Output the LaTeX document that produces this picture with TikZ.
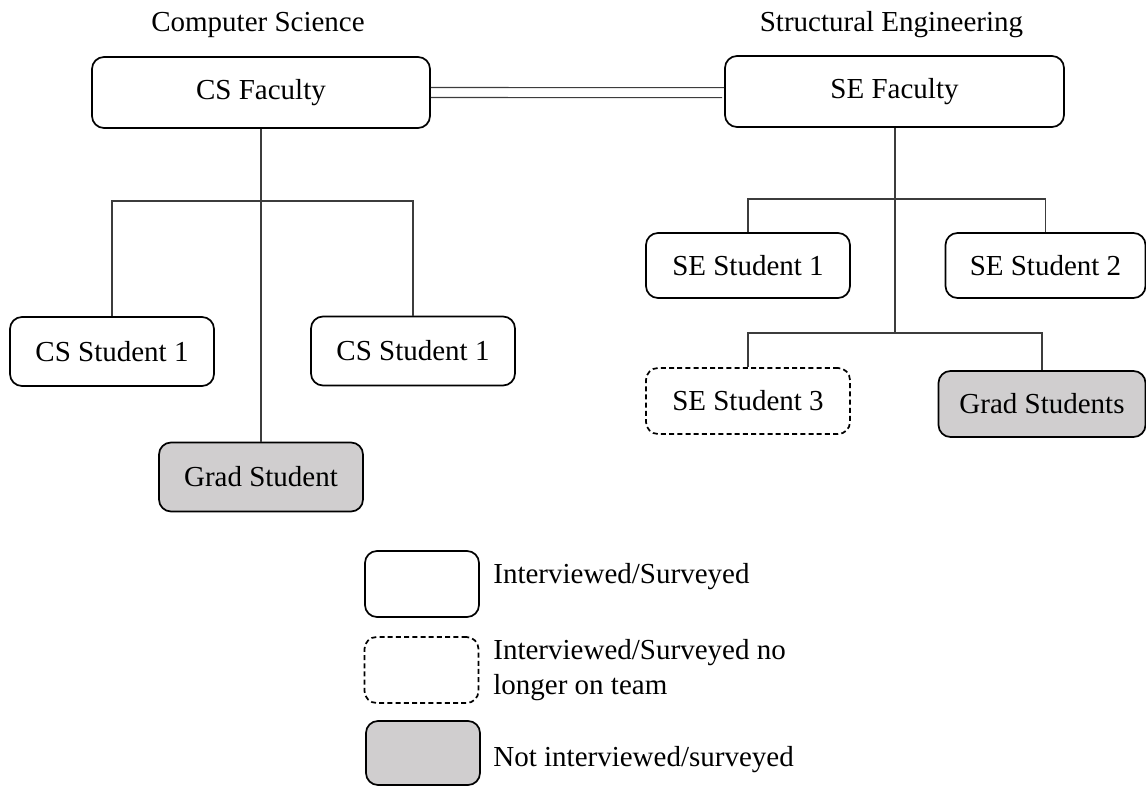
\documentclass[tikz,border=0pt]{standalone}
\usepackage{fontspec}
\setmainfont{Liberation Serif}
\usetikzlibrary{calc}
\definecolor{boxgray}{RGB}{208,206,207}
\definecolor{linegray}{RGB}{60,60,60}
\tikzset{
  txt/.style={font=\fontsize{14.5}{17.5}\selectfont, inner sep=0pt},
  box/.style={txt, draw=black, line width=0.85pt, rounded corners=6pt, align=center},
  plainbox/.style={box, fill=white},
  dashbox/.style={box, fill=white, dash pattern=on 2.5pt off 1.6pt},
  graybox/.style={box, fill=boxgray},
  conn/.style={draw=linegray, line width=0.55pt},
}
\begin{document}
\begin{tikzpicture}[x=0.5pt,y=-0.5pt]
\useasboundingbox (0,0) rectangle (1146,786);
% titles
\node[txt, anchor=base] (t1) at (258,32) {Computer Science};
\node[txt, anchor=base] (t2) at (891.5,32) {Structural Engineering};
% faculty
\node[plainbox, minimum width=169pt, minimum height=35.5pt] (csf) at (261,92.5) {CS Faculty};
\node[plainbox, minimum width=169.5pt, minimum height=35.5pt] (sef) at (894.5,91.5) {SE Faculty};
% CS students
\node[plainbox, minimum width=102pt, minimum height=34.5pt] (cs1) at (112,351.5) {CS Student 1};
\node[plainbox, minimum width=102pt, minimum height=34.5pt] (cs2) at (413,351) {CS Student 1};
\node[graybox, minimum width=102pt, minimum height=34.5pt] (csg) at (261,477) {Grad Student};
% SE students
\node[plainbox, minimum width=102pt, minimum height=32.5pt] (se1) at (748,265.5) {SE Student 1};
\node[plainbox, minimum width=100pt, minimum height=32.5pt] (se2) at (1045.5,265.5) {SE Student 2};
\node[dashbox, minimum width=102pt, minimum height=33pt] (se3) at (748,401) {SE Student 3};
\node[graybox, minimum width=103.5pt, minimum height=33pt] (seg) at (1042,404) {Grad Students};
% junctions
\coordinate (csj) at (261,201);
\coordinate (sej1) at (895,199);
\coordinate (sej2) at (895,333);
% connectors
\draw[conn] (csf.east) ++(0,-5) -- ($(sef.west)+(0,-3.8)$);
\draw[conn] (csf.east) ++(0,5) -- ($(sef.west)+(-2,6.2)$);
\draw[conn] (csf.south) -- (csg.north);
\draw[conn] (cs1.north) |- (csj) -| (cs2.north);
\draw[conn] (sef.south -| sej1) -- (sej2);
\draw[conn] (se1.north) |- (sej1) -| (se2.north);
\draw[conn] (se3.north) |- (sej2) -| (seg.north);
% legend
\node[plainbox, minimum width=57pt, minimum height=33pt] (l1) at (422,584) {};
\node[dashbox, minimum width=57pt, minimum height=33pt] (l2) at (421.5,670) {};
\node[graybox, minimum width=57pt, minimum height=32pt] (l3) at (423,753) {};
\node[txt, anchor=west] (lt1) at (493,577) {Interviewed/Surveyed};
\node[txt, anchor=west, align=left] (lt2) at (493,670) {Interviewed/Surveyed no\\longer on team};
\node[txt, anchor=west] (lt3) at (493,760) {Not interviewed/surveyed};
\end{tikzpicture}
\end{document}
